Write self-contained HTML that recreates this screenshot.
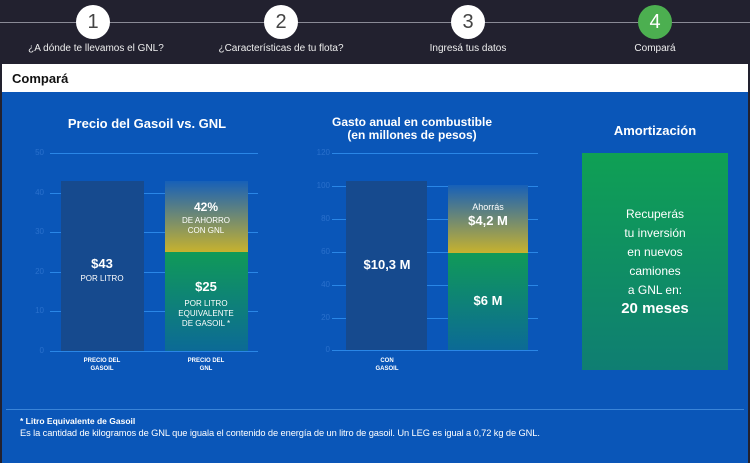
<!DOCTYPE html>
<html><head><meta charset="utf-8"><style>
*{margin:0;padding:0;box-sizing:border-box}
body{width:750px;height:463px;overflow:hidden;background:#22212f;font-family:"Liberation Sans",sans-serif;position:relative;color:#fff}
.a{position:absolute}
.c{position:absolute;width:34px;height:34px;border-radius:50%;background:#fff;color:#444;font-size:20px;text-align:center;line-height:34px;top:5px}
.sl{position:absolute;top:43px;font-size:10px;color:#eee;transform:translateX(-50%);white-space:nowrap}
.g{position:absolute;height:1px;background:#2a86e6}
.t{position:absolute;font-size:8px;color:#2a70cc;text-align:right;width:20px}
.ctr{position:absolute;text-align:center;transform:translateX(-50%);white-space:nowrap;font-weight:bold}
</style></head><body>
<div class="a" style="left:0;top:22px;width:750px;height:1px;background:#8a8a96"></div>
<div class="c" style="left:76px">1</div>
<div class="c" style="left:264px">2</div>
<div class="c" style="left:451px">3</div>
<div class="c" style="left:638px;background:#4caf50;color:#fff">4</div>
<div class="sl" style="left:96px">¿A dónde te llevamos el GNL?</div>
<div class="sl" style="left:281px">¿Características de tu flota?</div>
<div class="sl" style="left:468px">Ingresá tus datos</div>
<div class="sl" style="left:655px">Compará</div>
<div class="a" style="left:2px;top:64px;width:746px;height:28px;background:#fff;color:#111;font-size:13px;font-weight:bold;padding:7px 10px">Compará</div>
<div class="a" style="left:2px;top:92px;width:746px;height:371px;background:#0a56b8"></div>

<div class="ctr" style="left:147px;top:116px;font-size:13px">Precio del Gasoil vs. GNL</div>
<div class="g" style="left:50px;top:153px;width:208px"></div><div class="t" style="left:24px;top:148px">50</div>
<div class="g" style="left:50px;top:193px;width:208px"></div><div class="t" style="left:24px;top:188px">40</div>
<div class="g" style="left:50px;top:232px;width:208px"></div><div class="t" style="left:24px;top:227px">30</div>
<div class="g" style="left:50px;top:272px;width:208px"></div><div class="t" style="left:24px;top:267px">20</div>
<div class="g" style="left:50px;top:311px;width:208px"></div><div class="t" style="left:24px;top:306px">10</div>
<div class="g" style="left:50px;top:351px;width:208px"></div><div class="t" style="left:24px;top:346px">0</div>
<div class="a" style="left:61px;top:181px;width:83px;height:170px;background:#164a8e"></div>
<div class="a" style="left:165px;top:181px;width:83px;height:71px;background:linear-gradient(#1760b8,#c7b22e)"></div>
<div class="a" style="left:165px;top:252px;width:83px;height:99px;background:linear-gradient(#109a58,#0c6a96)"></div>
<div class="ctr" style="left:102px;top:256px;font-size:13px">$43</div>
<div class="ctr" style="left:102px;top:274px;font-size:8px;font-weight:normal">POR LITRO</div>
<div class="ctr" style="left:206px;top:200px;font-size:12px">42%</div>
<div class="ctr" style="left:206px;top:216px;font-size:8px;font-weight:normal;line-height:10px">DE AHORRO<br>CON GNL</div>
<div class="ctr" style="left:206px;top:279px;font-size:13px">$25</div>
<div class="ctr" style="left:206px;top:299px;font-size:8px;font-weight:normal;line-height:10px">POR LITRO<br>EQUIVALENTE<br>DE GASOIL *</div>
<div class="ctr" style="left:102px;top:357px;font-size:6px;line-height:8px">PRECIO DEL<br>GASOIL</div>
<div class="ctr" style="left:206px;top:357px;font-size:6px;line-height:8px">PRECIO DEL<br>GNL</div>

<div class="ctr" style="left:412px;top:116px;font-size:12px;line-height:13px">Gasto anual en combustible<br>(en millones de pesos)</div>
<div class="g" style="left:332px;top:153px;width:206px"></div><div class="t" style="left:310px;top:148px">120</div>
<div class="g" style="left:332px;top:186px;width:206px"></div><div class="t" style="left:310px;top:181px">100</div>
<div class="g" style="left:332px;top:219px;width:206px"></div><div class="t" style="left:310px;top:214px">80</div>
<div class="g" style="left:332px;top:252px;width:206px"></div><div class="t" style="left:310px;top:247px">60</div>
<div class="g" style="left:332px;top:285px;width:206px"></div><div class="t" style="left:310px;top:280px">40</div>
<div class="g" style="left:332px;top:318px;width:206px"></div><div class="t" style="left:310px;top:313px">20</div>
<div class="g" style="left:332px;top:350px;width:206px"></div><div class="t" style="left:310px;top:345px">0</div>
<div class="a" style="left:346px;top:181px;width:81px;height:169px;background:#164a8e"></div>
<div class="a" style="left:448px;top:185px;width:80px;height:68px;background:linear-gradient(#1760b8,#c7b22e)"></div>
<div class="a" style="left:448px;top:253px;width:80px;height:97px;background:linear-gradient(#109a58,#0c6a96)"></div>
<div class="ctr" style="left:387px;top:257px;font-size:13px">$10,3 M</div>
<div class="ctr" style="left:488px;top:202px;font-size:9px;font-weight:normal">Ahorrás</div>
<div class="ctr" style="left:488px;top:213px;font-size:13px">$4,2 M</div>
<div class="ctr" style="left:488px;top:293px;font-size:13px">$6 M</div>
<div class="ctr" style="left:387px;top:357px;font-size:6px;line-height:8px">CON<br>GASOIL</div>

<div class="ctr" style="left:655px;top:123px;font-size:13px">Amortización</div>
<div class="a" style="left:582px;top:153px;width:146px;height:217px;background:linear-gradient(#0fa054,#0f7e72)"></div>
<div class="ctr" style="left:655px;top:205px;font-size:12px;font-weight:normal;line-height:19px">Recuperás<br>tu inversión<br>en nuevos<br>camiones<br>a GNL en:</div>
<div class="ctr" style="left:655px;top:300px;font-size:15px">20 meses</div>

<div class="a" style="left:6px;top:409px;width:738px;height:1px;background:#3a84d8"></div>
<div class="a" style="left:20px;top:416px;font-size:8.5px;font-weight:bold">* Litro Equivalente de Gasoil</div>
<div class="a" style="left:20px;top:428px;font-size:9.3px;letter-spacing:-0.1px">Es la cantidad de kilogramos de GNL que iguala el contenido de energía de un litro de gasoil. Un LEG es igual a 0,72 kg de GNL.</div>
</body></html>
